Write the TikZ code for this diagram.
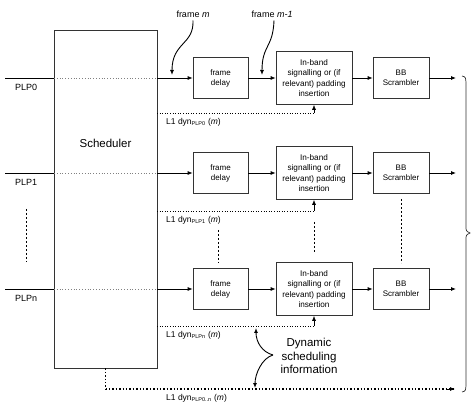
\documentclass[tikz,border=0pt]{standalone}
\usepackage{fontspec}
\setmainfont{Liberation Sans}
\usetikzlibrary{arrows.meta}
\begin{document}
\begin{tikzpicture}[x=1pt,y=-1pt,
  blk/.style={draw=black!80,line width=0.7pt,rectangle,inner sep=0pt,align=center,font=\fontsize{8}{10}\selectfont},
  fdbox/.style={blk,minimum width=55pt,minimum height=41pt},
  ibbox/.style={blk,minimum width=76pt,minimum height=53pt,font=\fontsize{8.2}{10.5}\selectfont},
  scbox/.style={blk,minimum width=56pt,minimum height=41pt},
  flow/.style={line width=0.8pt,-{Latex[length=5pt,width=4pt]}},
  inl/.style={line width=0.8pt},
  thru/.style={gray,dotted,line width=0.8pt},
  dyn/.style={dotted,line width=0.6pt},
  vdash/.style={dashed,line width=0.6pt,dash pattern=on 2pt off 2pt},
  lbl/.style={font=\fontsize{8.5}{10}\selectfont,inner sep=0pt},
  curv/.style={line width=0.9pt,-{Latex[length=5pt,width=4pt]}}
]
\useasboundingbox (0,0) rectangle (474,403);
% scheduler
\node[draw=black!80,line width=0.7pt,minimum width=103pt,minimum height=338pt,inner sep=0pt] (sched) at (105.5,199) {};
\node[font=\fontsize{11.5}{13}\selectfont] (schedtxt) at (105.5,143) {Scheduler};
% rows
\foreach \r/\y/\n in {0/78/PLP0,1/173/PLP1,n/289/PLPn}{
  \coordinate (in\r) at (5,\y);
  \coordinate (sw\r) at (54,\y);
  \coordinate (se\r) at (157,\y);
  \node[fdbox] (fd\r) at (220.5,\y) {frame\\delay};
  \node[ibbox] (ib\r) at (314,\y) {In-band\\signalling or (if\\relevant) padding\\insertion};
  \node[scbox] (sc\r) at (401,\y) {BB\\Scrambler};
  \coordinate (out\r) at (456,\y);
  \node[lbl,anchor=west,font=\fontsize{9}{10}\selectfont] (plp\r) at (15,\y+9) {\n};
  \draw[inl] (in\r) -- (sw\r);
  \draw[thru] (sw\r) -- (se\r);
  \draw[flow] (se\r) -- (fd\r.west);
  \draw[flow] (fd\r.east) -- (ib\r.west);
  \draw[flow] (ib\r.east) -- (sc\r.west);
  \draw[flow] (sc\r.east) -- (out\r);
}
% L1 dyn lines
\coordinate (d0) at (157,113);
\coordinate (d1) at (157,211);
\coordinate (dn) at (157,326);
\draw[dyn] (d0) -- (314,113) coordinate (d0e);
\draw[-{Latex[length=5pt,width=4pt]},line width=0.6pt] (d0e) -- (ib0.south);
\draw[dyn] (d1) -- (314,211) coordinate (d1e);
\draw[-{Latex[length=5pt,width=4pt]},line width=0.6pt] (d1e) -- (ib1.south);
\draw[dyn] (dn) -- (314,326) coordinate (dne);
\draw[-{Latex[length=5pt,width=4pt]},line width=0.6pt] (dne) -- (ibn.south);
\node[lbl,anchor=west] (l0) at (166,122) {L1 dyn\textsubscript{\fontsize{5.5}{6}\selectfont PLP0} (\textit{m})};
\node[lbl,anchor=west] (l1) at (166,220) {L1 dyn\textsubscript{\fontsize{5.5}{6}\selectfont PLP1} (\textit{m})};
\node[lbl,anchor=west] (ln) at (166,335) {L1 dyn\textsubscript{\fontsize{5.5}{6}\selectfont PLPn} (\textit{m})};
% bottom thick dotted
\coordinate (bc) at (105.5,389);
\coordinate (be) at (455,389);
\draw[dotted,line width=1.4pt] (sched.south) -- (bc);
\draw[dotted,line width=1.4pt] (bc) -- (be);
\draw[-{Latex[length=5pt,width=4pt]},line width=0.8pt] (446,389) -- (be);
\node[lbl,anchor=west] (lb) at (166,398.5) {L1 dyn\textsubscript{\fontsize{5.5}{6}\selectfont PLP0..n} (\textit{m})};
% vertical dashes
\draw[vdash] (26,209) -- (26,262);
\draw[vdash] (218,230) -- (218,263);
\draw[vdash] (314,222) -- (314,253);
\draw[vdash] (401,199) -- (401,263);
% frame labels
\node[lbl,font=\fontsize{9}{10}\selectfont] (fm) at (193,14) {frame \textit{m}};
\node[lbl,font=\fontsize{9}{10}\selectfont] (fm1) at (272,14) {frame \textit{m-1}};
\coordinate (fmt) at (172,75);
\coordinate (fm1t) at (262,75);
\draw[curv] (fm.south) ++(0,3) .. controls (194,45) and (172,42) .. (fmt);
\draw[curv] (fm1.south) ++(2,3) .. controls (273,48) and (262,45) .. (fm1t);
% dynamic scheduling info
\node[align=center,font=\fontsize{11.5}{13.5}\selectfont] (dsi) at (309,356) {Dynamic\\scheduling\\information};
\coordinate (dsp) at (273,355);
\draw[line width=0.9pt,-{Latex[length=5pt,width=4pt]}] (dsp) .. controls (262,352) and (256,342) .. (256,328);
\draw[line width=0.9pt,-{Latex[length=5pt,width=4pt]}] (dsp) .. controls (262,358) and (255,374) .. (255,388);
% right brace
\draw[line width=0.7pt,black!80] (462,76) .. controls (466,77) .. (466,88) -- (466,226) .. controls (466,231) .. (470,233) .. controls (466,235) .. (466,240) -- (466,380) .. controls (466,391) .. (462,392);
\end{tikzpicture}
\end{document}
